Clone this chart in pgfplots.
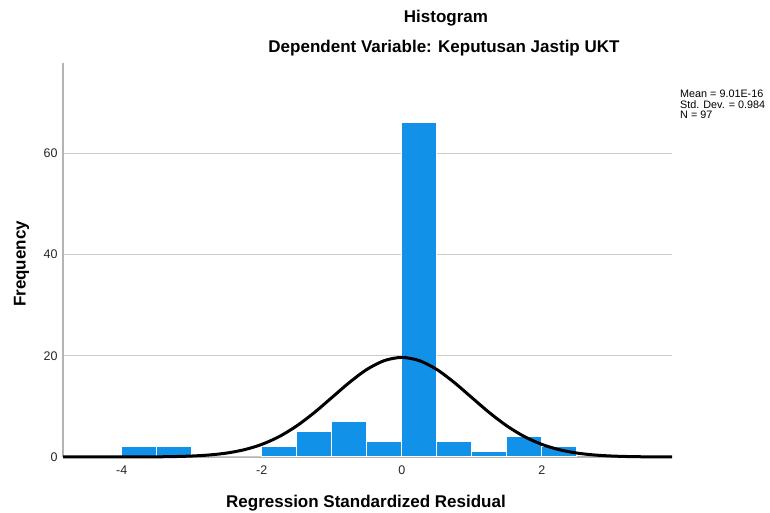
\documentclass[border=0pt]{standalone}
\usepackage{pgfplots}
\pgfplotsset{compat=1.18}
\usepackage{fontspec}
\setmainfont{Liberation Sans}
\definecolor{barblue}{HTML}{1192E8}
\definecolor{axgray}{HTML}{B4B4B4}
\definecolor{gridgray}{HTML}{CDCDCD}
\begin{document}
\begin{tikzpicture}
\path[use as bounding box] (0,0) rectangle (770pt,513pt);
\begin{axis}[
  at={(63pt,56pt)}, anchor=south west,
  scale only axis, width=609pt, height=394pt,
  xmin=-4.84, xmax=3.86, ymin=0, ymax=77.8,
  axis x line*=bottom, axis y line*=left,
  axis line style={axgray, line width=1.5pt, -},
  xtick={-4,-2,0,2}, xticklabels={-4,-2,0,2},
  ytick={0,20,40,60}, yticklabels={0,20,40,60},
  major tick length=0pt,
  ymajorgrids, grid style={gridgray, line width=0.8pt},
  tick label style={font=\fontsize{12.5}{14}\selectfont, text=black!85},
  xticklabel style={yshift=-5pt},
  yticklabel style={xshift=-2pt},
  clip=false,
]
\addplot[ybar interval, fill=barblue, draw=white, line width=1pt] coordinates {
  (-4,2) (-3.5,2) (-3,0) (-2.5,0) (-2,2) (-1.5,5) (-1,7) (-0.5,3)
  (0,66) (0.5,3) (1,1) (1.5,4) (2,2) (2.5,2)};
\addplot[black, line width=3pt, smooth] coordinates {
  (-4.84,0) (-4.5,0.001) (-4.25,0.002) (-4,0.005) (-3.75,0.014) (-3.5,0.035) (-3.25,0.084)
  (-3,0.19) (-2.75,0.40) (-2.5,0.78) (-2.25,1.44) (-2,2.49) (-1.75,4.04)
  (-1.5,6.15) (-1.25,8.77) (-1,11.73) (-0.75,14.70) (-0.5,17.28) (-0.25,19.03)
  (0,19.66)
  (0.25,19.03) (0.5,17.28) (0.75,14.70) (1,11.73) (1.25,8.77) (1.5,6.15)
  (1.75,4.04) (2,2.49) (2.25,1.44) (2.5,0.78) (2.75,0.40) (3,0.19)
  (3.25,0.084) (3.5,0.035) (3.75,0.014) (3.86,0.009)};
\end{axis}
\node[anchor=base, font=\fontsize{17}{20}\selectfont\bfseries] at (446pt,490pt) {Histogram};
\node[anchor=base, font=\fontsize{17}{20}\selectfont\bfseries] at (444pt,460pt) {Dependent Variable: Keputusan Jastip UKT};
\node[anchor=base, font=\fontsize{17}{20}\selectfont\bfseries] at (366pt,5pt) {Regression Standardized Residual};
\node[anchor=base, rotate=90, font=\fontsize{17}{20}\selectfont\bfseries] at (25.5pt,249pt) {Frequency};
\node[anchor=north west, inner sep=0pt, align=left, font=\fontsize{10.8}{10.4}\selectfont] at (680pt,423pt) {Mean = 9.01E-16\\Std. Dev. = 0.984\\N = 97};
\end{tikzpicture}
\end{document}
